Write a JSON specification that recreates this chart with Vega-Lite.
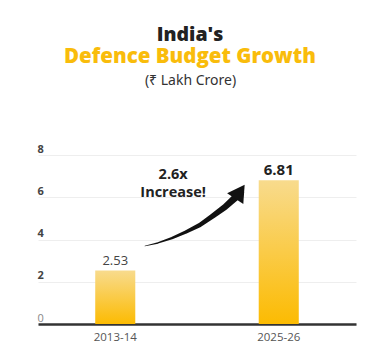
{
  "$schema": "https://vega.github.io/schema/vega-lite/v6.json",
  "width": 318,
  "height": 190,
  "autosize": "none",
  "padding": {"left": 38, "top": 134, "right": 24, "bottom": 31},
  "background": "white",
  "config": {"view": {"stroke": null}, "font": "Open Sans, Noto Sans"},
  "title": {
    "text": "India's",
    "subtitle": "Defence Budget Growth",
    "anchor": "middle",
    "frame": "group",
    "dx": -7,
    "offset": 5,
    "fontSize": 19.5,
    "fontWeight": 800,
    "color": "#222222",
    "subtitleFontSize": 20.5,
    "subtitleFontWeight": 800,
    "subtitleColor": "#f9bc0b",
    "subtitlePadding": 1,
    "font": "Open Sans",
    "subtitleFont": "Open Sans"
  },
  "layer": [
    {
      "data": {"values": [
        {"year": "2013-14", "budget": 2.53},
        {"year": "2025-26", "budget": 6.81}
      ]},
      "encoding": {
        "x": {"field": "year", "type": "nominal", "sort": null,
          "scale": {"paddingInner": 0.755, "paddingOuter": 0.35},
          "axis": {"title": null, "labelAngle": 0, "ticks": false, "labelPadding": 7,
            "domainColor": "#333333", "domainWidth": 2.5, "labelColor": "#555555", "labelFontSize": 11.5, "grid": false}},
        "y": {"field": "budget", "type": "quantitative",
          "scale": {"domain": [0, 9], "nice": false},
          "axis": {"title": "(₹ Lakh Crore)", "titleAngle": 0, "titleAlign": "center", "titleBaseline": "alphabetic",
            "titleX": 152, "titleY": -50, "titleFontSize": 14, "titleFontWeight": "normal", "titleColor": "#333333", "titleFont": "Noto Sans",
            "values": [0, 1, 2, 3, 4, 5, 6, 7, 8, 9],
            "labelExpr": "datum.value % 2 == 0 && datum.value < 9 ? datum.label : ''",
            "domain": false, "ticks": false, "labelAlign": "left", "labelPadding": 1, "labelBaseline": "bottom", "labelOffset": -1,
            "labelFontSize": 11,
            "labelFontWeight": {"condition": {"test": "datum.value == 0", "value": "normal"}, "value": "bold"},
            "labelColor": {"condition": {"test": "datum.value == 0", "value": "#888888"}, "value": "#444444"},
            "grid": true, "gridColor": "#eeeeee", "gridWidth": 1}}
      },
      "layer": [
        {"mark": {"type": "bar", "color": {"gradient": "linear", "x1": 0, "y1": 0, "x2": 0, "y2": 1,
          "stops": [{"offset": 0, "color": "#f8db8d"}, {"offset": 1, "color": "#fcbb02"}]}}},
        {"transform": [{"filter": "datum.year == '2013-14'"}],
         "mark": {"type": "text", "baseline": "bottom", "dy": -3, "fontSize": 13, "color": "#444444"},
         "encoding": {"text": {"field": "budget", "type": "quantitative", "format": ".2f"}}},
        {"transform": [{"filter": "datum.year == '2025-26'"}],
         "mark": {"type": "text", "baseline": "bottom", "dy": -2, "fontSize": 15, "fontWeight": "bold", "color": "#222222"},
         "encoding": {"text": {"field": "budget", "type": "quantitative", "format": ".2f"}}}
      ]
    },
    {
      "layer": [
        {
          "data": {"values": [
            {"px": 0.336, "v": 3.69, "i": 0},
            {"px": 0.377, "v": 3.84, "i": 1},
            {"px": 0.421, "v": 4.07, "i": 2},
            {"px": 0.465, "v": 4.36, "i": 3},
            {"px": 0.509, "v": 4.69, "i": 4},
            {"px": 0.550, "v": 5.12, "i": 5},
            {"px": 0.588, "v": 5.54, "i": 6},
            {"px": 0.623, "v": 6.02, "i": 7},
            {"px": 0.635, "v": 6.21, "i": 8}
          ]},
          "mark": {"type": "trail", "color": "#111111"},
          "encoding": {
            "x": {"field": "px", "type": "quantitative", "scale": {"domain": [0, 1]}, "axis": null},
            "y": {"field": "v", "type": "quantitative", "scale": {"domain": [0, 9], "nice": false}},
            "order": {"field": "i", "type": "quantitative"},
            "size": {"field": "i", "type": "quantitative", "scale": {"domain": [0, 8], "range": [0.5, 8]}, "legend": null}
          }
        },
        {
          "data": {"values": [{"px": 0.635, "v": 6.27}]},
          "mark": {"type": "point", "shape": "triangle-up", "filled": true, "color": "#111111", "opacity": 1, "size": 380, "angle": 34},
          "encoding": {
            "x": {"field": "px", "type": "quantitative", "scale": {"domain": [0, 1]}, "axis": null},
            "y": {"field": "v", "type": "quantitative", "scale": {"domain": [0, 9], "nice": false}}
          }
        },
        {
          "data": {"values": [{"px": 0.425, "v": 7.06, "label": "2.6x\nIncrease!"}]},
          "mark": {"type": "text", "lineBreak": "\n", "baseline": "middle", "fontSize": 14.5, "fontWeight": "bold", "color": "#222222", "lineHeight": 18},
          "encoding": {
            "x": {"field": "px", "type": "quantitative", "scale": {"domain": [0, 1]}, "axis": null},
            "y": {"field": "v", "type": "quantitative", "scale": {"domain": [0, 9], "nice": false}},
            "text": {"field": "label"}
          }
        }
      ]
    }
  ],
  "resolve": {"scale": {"x": "independent"}}
}
